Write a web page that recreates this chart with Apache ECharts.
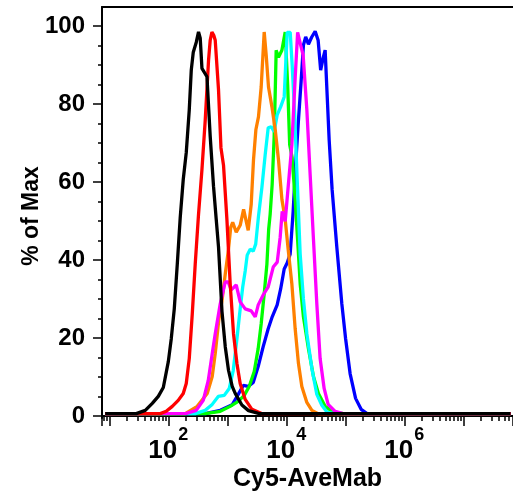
<!DOCTYPE html>
<html><head><meta charset="utf-8">
<script src="https://cdn.jsdelivr.net/npm/echarts@6/dist/echarts.min.js"></script>
<style>html,body{margin:0;padding:0;background:#fff}#c{width:513px;height:497px}</style>
</head><body><div id="c"></div>
<script>
// Each point: [log10(Cy5 intensity), % of Max]
const blackCurve = [[0.93,0.6],[1.457,0.6],[1.610,1.45],[1.728,3.24],[1.830,5.03],[1.915,7.32],[2.000,13.95],[2.050,19.82],[2.101,27.47],[2.152,38.95],[2.202,50.94],[2.253,60.64],[2.304,67.53],[2.355,78.50],[2.389,88.70],[2.423,93.29],[2.474,95.84],[2.512,98.47],[2.541,96.86],[2.570,89.13],[2.655,86.99],[2.710,71.68],[2.766,58.93],[2.812,50.43],[2.851,43.29],[2.909,26.9],[2.965,17.78],[3.020,11.73],[3.083,7.58],[3.134,5.79],[3.247,2.81],[3.359,1.38],[3.528,0.69],[3.642,0.6],[7.8,0.6]];
const redCurve = [[0.93,0.6],[1.864,0.6],[1.965,1.2],[2.067,2.47],[2.168,4.01],[2.253,5.79],[2.304,8.34],[2.355,14.72],[2.406,26.20],[2.456,38.95],[2.512,51.71],[2.570,63.19],[2.626,75.94],[2.682,91.25],[2.710,96.35],[2.739,98.47],[2.770,97.63],[2.795,96.35],[2.851,83.60],[2.892,68.80],[2.936,64.21],[2.993,50.43],[3.049,33.85],[3.105,21.10],[3.163,13.45],[3.218,8.34],[3.303,4.26],[3.417,1.71],[3.591,0.6],[7.8,0.6]];
const magentaCurve = [[0.93,0.6],[2.304,0.69],[2.473,1.45],[2.592,4.01],[2.677,9.11],[2.744,15.99],[2.795,21.10],[2.880,28.75],[2.965,34.36],[3.015,34.36],[3.066,32.32],[3.151,33.60],[3.218,29.26],[3.303,27.47],[3.405,26.96],[3.473,25.43],[3.524,28.49],[3.608,31.05],[3.693,33.09],[3.778,38.19],[3.846,39.46],[3.896,45.84],[3.930,52.47],[3.981,49.92],[4.032,58.85],[4.094,69.57],[4.150,86.66],[4.192,98.39],[4.243,95.08],[4.285,92.53],[4.348,78.49],[4.404,61.91],[4.460,45.33],[4.517,28.75],[4.573,14.72],[4.641,7.07],[4.709,2.98],[4.827,1.20],[4.963,0.6],[7.8,0.6]];
const orangeCurve = [[0.93,0.6],[2.287,0.6],[2.490,2.47],[2.659,5.79],[2.744,10.13],[2.795,15.99],[2.854,24.41],[2.914,30.03],[2.965,36.40],[3.020,42.78],[3.058,48.39],[3.091,49.67],[3.151,47.1],[3.218,48.9],[3.276,52.98],[3.354,47.6],[3.405,54.3],[3.444,65.74],[3.484,73.39],[3.528,76.71],[3.574,84.36],[3.625,98.47],[3.659,92.53],[3.698,84.36],[3.756,79.26],[3.812,73.39],[3.867,65.74],[3.925,55.54],[3.981,50.43],[4.031,42.78],[4.094,33.85],[4.150,22.37],[4.206,13.45],[4.263,7.58],[4.348,3.49],[4.433,1.45],[4.539,0.6],[7.8,0.6]];
const cyanCurve = [[0.93,0.6],[2.456,0.6],[2.626,1.45],[2.744,2.98],[2.846,5.03],[2.948,5.28],[3.033,7.07],[3.100,11.66],[3.163,19.82],[3.218,27.47],[3.261,33.09],[3.303,37.17],[3.337,41.25],[3.388,42.78],[3.439,42.27],[3.481,44.06],[3.528,51.20],[3.586,58.60],[3.642,67.02],[3.693,73.90],[3.744,74.16],[3.794,72.88],[3.845,77.22],[3.904,79.26],[3.964,81.81],[3.989,89.97],[4.015,98.39],[4.066,98.39],[4.099,89.97],[4.142,77.22],[4.184,60.64],[4.235,41.51],[4.290,30.03],[4.348,21.10],[4.433,12.17],[4.517,5.54],[4.602,2.73],[4.692,0.94],[4.827,0.6],[7.8,0.6]];
const greenCurve = [[0.93,0.6],[2.626,0.6],[2.880,1.2],[3.049,2.47],[3.185,3.75],[3.287,5.28],[3.371,7.58],[3.456,11.40],[3.523,17.27],[3.574,23.65],[3.625,31.30],[3.671,38.95],[3.701,47.88],[3.726,51.71],[3.760,59.36],[3.794,71.61],[3.811,82.32],[3.828,93.80],[3.867,92.01],[3.925,93.80],[3.981,98.47],[4.023,84.87],[4.057,69.57],[4.099,66.25],[4.150,55.54],[4.201,42.78],[4.235,33.85],[4.290,25.43],[4.375,17.27],[4.460,10.13],[4.544,5.79],[4.658,2.47],[4.793,1.07],[4.963,0.6],[7.8,0.6]];
const blueCurve = [[0.93,0.6],[2.626,0.6],[2.880,1.45],[3.083,2.86],[3.185,5.54],[3.270,7.83],[3.354,7.58],[3.439,8.60],[3.523,12.68],[3.608,17.78],[3.693,22.37],[3.761,25.43],[3.845,28.49],[3.904,32.58],[3.964,37.68],[4.014,39.21],[4.065,41.51],[4.116,52.47],[4.158,64.46],[4.206,75.94],[4.251,85.87],[4.290,95.08],[4.328,97.19],[4.375,95.33],[4.429,97.12],[4.489,98.65],[4.539,96.35],[4.582,88.70],[4.624,91.76],[4.658,93.80],[4.692,82.32],[4.726,70.84],[4.776,58.09],[4.856,43.29],[4.941,28.75],[5.005,19.82],[5.081,10.89],[5.174,4.52],[5.268,1.71],[5.369,0.6],[7.8,0.6]];

const seriesCurves = [blueCurve, greenCurve, cyanCurve, orangeCurve, magentaCurve, redCurve, blackCurve];
const seriesColors = ['#0000ff', '#00ff00', '#00ffff', '#ff8000', '#ff00ff', '#ff0000', '#000000'];
const xLabelExponents = [2, 4, 6];
const xRangeLog = [0.876, 7.842];
const yTicks = [0, 20, 40, 60, 80, 100];

const FONT = '"Liberation Sans", Arial, Helvetica, sans-serif';
const chart = echarts.init(document.getElementById('c'), null, {renderer: 'canvas'});

const option = {
  animation: false,
  backgroundColor: '#fff',
  grid: [
    {left: 102, right: 0, top: 26, bottom: 79},
    {left: 102, right: 0, top: 7, bottom: 79}
  ],
  xAxis: [{
    type: 'log', logBase: 10, gridIndex: 0,
    min: Math.pow(10, xRangeLog[0]), max: Math.pow(10, xRangeLog[1]),
    splitNumber: 7,
    name: 'Cy5-AveMab', nameLocation: 'middle', nameGap: 51, nameMoveOverlap: false,
    nameTextStyle: {fontFamily: FONT, fontWeight: 'bold', fontSize: 25, color: '#000'},
    axisLine: {onZero: false, lineStyle: {color: '#000', width: 2}},
    axisTick: {length: 10, lineStyle: {color: '#000', width: 1.5}},
    minorTick: {show: true, splitNumber: 9, length: 5, lineStyle: {color: '#000', width: 1.5}},
    splitLine: {show: false}, minorSplitLine: {show: false},
    axisLabel: {
      margin: 10,
      showMinLabel: false, showMaxLabel: false,
      formatter: function (v) {
        const l = Math.log10(v), e = Math.round(l);
        if (Math.abs(l - e) > 1e-6 || xLabelExponents.indexOf(e) < 0) return '';
        return '{b|10}{s|' + e + '}';
      },
      rich: {
        b: {fontFamily: FONT, fontWeight: 'bold', fontSize: 26, color: '#000'},
        s: {fontFamily: FONT, fontWeight: 'bold', fontSize: 18, color: '#000', padding: [0, 0, 32, 1]}
      }
    }
  }, {
    type: 'value', gridIndex: 1, position: 'top', min: 0, max: 1,
    axisLine: {show: true, onZero: false, lineStyle: {color: '#000', width: 2}},
    axisTick: {show: false}, axisLabel: {show: false}, splitLine: {show: false}
  }],
  yAxis: [{
    type: 'value', gridIndex: 0, min: yTicks[0], max: yTicks[yTicks.length - 1], interval: 20,
    name: '% of Max', nameLocation: 'middle', nameGap: 59, nameMoveOverlap: false,
    nameTextStyle: {fontFamily: FONT, fontWeight: 'bold', fontSize: 23, color: '#000', padding: [0, 0, 0, 10]},
    axisLine: {show: false, onZero: false},
    axisTick: {length: 9, lineStyle: {color: '#000', width: 1.5}},
    minorTick: {show: true, splitNumber: 4, length: 4, lineStyle: {color: '#000', width: 1.5}},
    splitLine: {show: false},
    axisLabel: {margin: 17, fontFamily: FONT, fontWeight: 'bold', fontSize: 24, color: '#000'}
  }, {
    type: 'value', gridIndex: 1, min: 0, max: 1,
    axisLine: {show: true, onZero: false, lineStyle: {color: '#000', width: 2}},
    axisTick: {show: false}, axisLabel: {show: false}, splitLine: {show: false}
  }],
  series: seriesCurves.map(function (curve, i) {
    return {
      type: 'line', xAxisIndex: 0, yAxisIndex: 0,
      showSymbol: false, silent: true,
      lineStyle: {color: seriesColors[i], width: 3.3},
      itemStyle: {color: seriesColors[i]},
      data: curve.map(function (p) { return [Math.pow(10, p[0]), p[1]]; })
    };
  })
};
chart.setOption(option);
</script>
</body></html>
